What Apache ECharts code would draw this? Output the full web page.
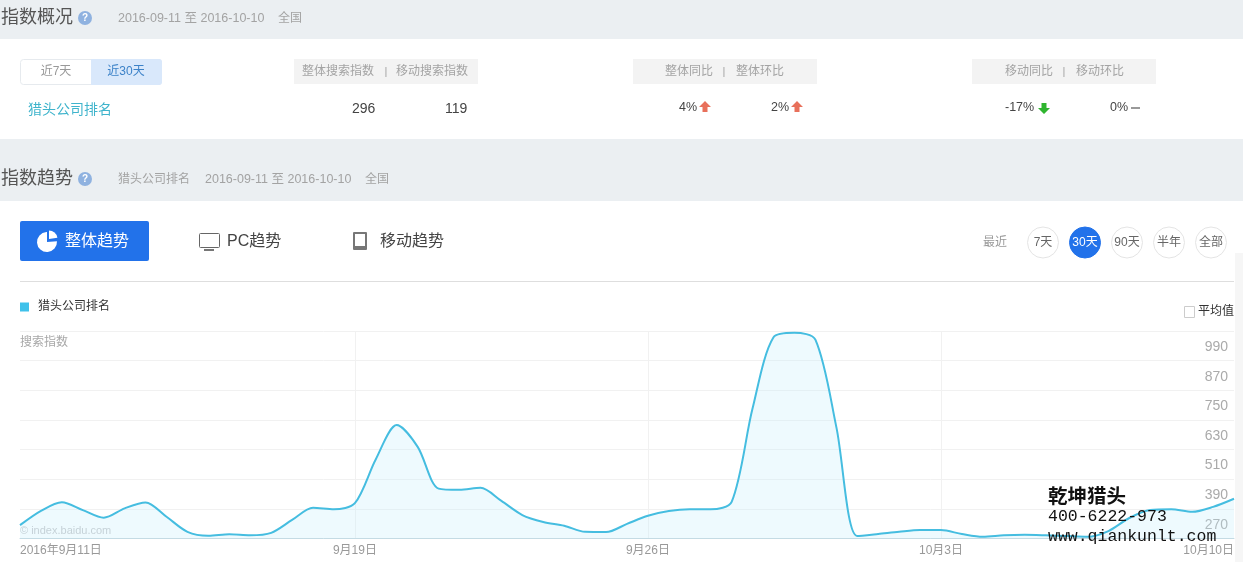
<!DOCTYPE html>
<html><head><meta charset="utf-8">
<style>html,body{margin:0;padding:0;background:#fff}#c{width:1243px;height:562px}</style>
<script src="https://cdn.jsdelivr.net/npm/echarts@6/dist/echarts.min.js"></script>
</head><body><div id="c"></div>
<script>
const dates = ['2016年9月11日','','9月12日','','9月13日','','9月14日','','9月15日','','9月16日','','9月17日','','9月18日','','9月19日','','9月20日','','9月21日','','9月22日','','9月23日','','9月24日','','9月25日','','9月26日','','9月27日','','9月28日','','9月29日','','9月30日','','10月1日','','10月2日','','10月3日','','10月4日','','10月5日','','10月6日','','10月7日','','10月8日','','10月9日','','10月10日'];
const searchIndex = [204,262,297,265,234,272,296,238,177,161,167,163,173,225,274,268,293,471,609,521,352,347,355,302,245,217,202,177,176,209,242,261,268,268,298,677,965,983,955,602,160,168,177,184,184,168,157,163,165,163,160,157,180,233,265,268,258,278,311];
const labelledSlots = [0,16,30,44,58];
const rangeButtons = ['7天','30天','90天','半年','全部'];
const seriesName = '猎头公司排名';

const FF = '"Liberation Sans","Noto Sans CJK SC",sans-serif';
const g = [];
const rect=(x,y,w,h,fill,r,stroke)=>g.push({type:'rect',shape:{x,y,width:w,height:h,r:r||0},style:{fill:fill,stroke:stroke||null,lineWidth:1},silent:true});
const text=(t,x,y,size,fill,align,weight,family)=>g.push({type:'text',z:5,x:x,y:y+1,style:{text:t,fill:fill,font:(weight||'normal')+' '+size+'px '+(family||FF),textAlign:align||'left',textVerticalAlign:'middle'},silent:true});
const circle=(cx,cy,r,fill,stroke)=>g.push({type:'circle',shape:{cx,cy,r},style:{fill:fill,stroke:stroke||null,lineWidth:1},silent:true});
const poly=(points,fill)=>g.push({type:'polygon',shape:{points},style:{fill},silent:true});
const upArrow=(cx,cy,c)=>poly([[cx,cy-6],[cx+6,cy],[cx+2.5,cy],[cx+2.5,cy+5],[cx-2.5,cy+5],[cx-2.5,cy],[cx-6,cy]],c);
const downArrow=(cx,cy,c)=>poly([[cx,cy+6],[cx+6,cy],[cx+2.5,cy],[cx+2.5,cy-5],[cx-2.5,cy-5],[cx-2.5,cy],[cx-6,cy]],c);
const help=(cx,cy)=>{circle(cx,cy,7,'#8fb2e0');text('?',cx,cy-1,10,'#fff','center','bold');};

// bands
rect(0,0,1243,39,'#ebeff2');
rect(0,139,1243,62,'#ebeff2');
rect(1235,253,8,309,'#f6f6f6');
text('指数概况',1,17,18,'#555');help(85,18);
text('2016-09-11 至 2016-10-10',118,18,12.5,'#a3a3a3');text('全国',278,18,12,'#a3a3a3');
text('指数趋势',1,178,18,'#555');help(85,179);
text(seriesName,118,179,12,'#a3a3a3');text('2016-09-11 至 2016-10-10',205,179,12.5,'#a3a3a3');text('全国',365,179,12,'#a3a3a3');
// tabs
rect(20.5,59.5,141,25,'#fff',3,'#e6eaee');
rect(91,59,71,26,'#d9e8fb',[0,3,3,0]);
text('近7天',56,71,12,'#999','center');text('近30天',126,71,12,'#3c82c8','center');
// header cells
rect(294,59,184,25,'#f3f3f3');rect(633,59,184,25,'#f3f3f3');rect(972,59,184,25,'#f3f3f3');
text('整体搜索指数',302,71,12,'#a3a3a3');text('|',386,71,11,'#a3a3a3','center');text('移动搜索指数',396,71,12,'#a3a3a3');
text('整体同比',665,71,12,'#a3a3a3');text('|',724,71,11,'#a3a3a3','center');text('整体环比',736,71,12,'#a3a3a3');
text('移动同比',1005,71,12,'#a3a3a3');text('|',1064,71,11,'#a3a3a3','center');text('移动环比',1076,71,12,'#a3a3a3');
// row
text(seriesName,28,109,14,'#3fb4cc');
text('296',352,108,14,'#444');text('119',445,108,14,'#444');
text('4%',679,107,12.5,'#444');upArrow(705,107,'#e8705b');
text('2%',771,107,12.5,'#444');upArrow(797,107,'#e8705b');
text('-17%',1005,107,12.5,'#444');downArrow(1044,108,'#2fb52f');
text('0%',1110,107,12.5,'#444');rect(1131,107,9,2,'#999');
// trend buttons
rect(20,221,129,40,'#2272ea',2);
g.push({type:'sector',shape:{cx:47,cy:242,r:10,r0:0,startAngle:-Math.PI*0.02,endAngle:-Math.PI*0.5,clockwise:true},style:{fill:'#fff'},silent:true});
g.push({type:'sector',shape:{cx:49,cy:239,r:8.5,r0:0,startAngle:-Math.PI/2,endAngle:-Math.PI*0.05,clockwise:true},style:{fill:'#fff'},silent:true});
text('整体趋势',65,241,16,'#fff');
rect(199.5,233.5,20,14,'#fff',1,'#666');rect(204,249,10,2,'#777');
text('PC趋势',227,241,16,'#444');
rect(353,232,14,18,'#777',1);rect(355,234,10,12,'#fff');
text('移动趋势',380,241,16,'#444');
// range
text('最近',983,242,12,'#999');
rangeButtons.forEach((t,i)=>{const cx=1043+i*42;const on=i===1;
  circle(cx,242.5,15.5,on?'#2272ea':'#fff',on?'#2272ea':'#e4e4e4');
  text(t,cx,242,12,on?'#fff':'#666','center');});
rect(20,281,1214,1,'#dedede');
// chart furniture
rect(1184.5,306.5,10,11,'#fff',0,'#ccc');text('平均值',1198,311,12,'#333');
text('搜索指数',20,342,12,'#a8a8a8');
text('© index.baidu.com',20,530,11,'#c6d2d8');
// overlay stamp
const stamp=(t,y,font)=>g.push({type:'text',x:1048,y:y,z:50,style:{text:t,fill:'#111',font:font,textVerticalAlign:'middle'},silent:true});
stamp('乾坤猎头',496,'bold 19.5px "Noto Sans CJK SC",sans-serif');
stamp('400-6222-973',517,'16.5px "Liberation Mono",monospace');
stamp('www.qiankunlt.com',537,'16.5px "Liberation Mono",monospace');

const chart = echarts.init(document.getElementById('c'),null,{renderer:'canvas'});
chart.setOption({
  animation:false,
  graphic:{elements:g},
  legend:{left:20,top:301,padding:0,itemWidth:9,itemHeight:9,icon:'rect',itemGap:6,
    data:[seriesName],textStyle:{fontSize:12,color:'#333',fontFamily:FF,padding:[0,0,0,4]}},
  grid:{left:20,right:9,top:331,bottom:23.5,containLabel:false},
  xAxis:{type:'category',data:dates,boundaryGap:false,
    axisLine:{lineStyle:{color:'#c4d8e0',width:1}},axisTick:{show:false},
    axisLabel:{interval:(i)=>labelledSlots.includes(i),color:'#999',fontSize:12,fontFamily:FF,margin:6,alignMinLabel:'left',alignMaxLabel:'right'},
    splitLine:{show:true,interval:(i)=>labelledSlots.includes(i)&&i>0&&i<58,lineStyle:{color:'#f1f1f1',width:1}}},
  yAxis:{type:'value',position:'right',min:150,max:990,interval:120,
    axisLine:{show:false},axisTick:{show:false},
    axisLabel:{inside:true,margin:6,color:'#aaa',fontSize:14,fontFamily:FF,verticalAlign:'top',padding:[9,0,0,0],
      formatter:(v)=>v===150?'':String(v)},
    splitLine:{lineStyle:{color:'#f1f1f1',width:1}}},
  series:[{name:seriesName,type:'line',data:searchIndex,smooth:0.3,showSymbol:false,
    lineStyle:{color:'#45bde0',width:2},itemStyle:{color:'#3fc1ea'},areaStyle:{color:'rgba(195,238,250,0.4)'},z:3}]
});
</script></body></html>
